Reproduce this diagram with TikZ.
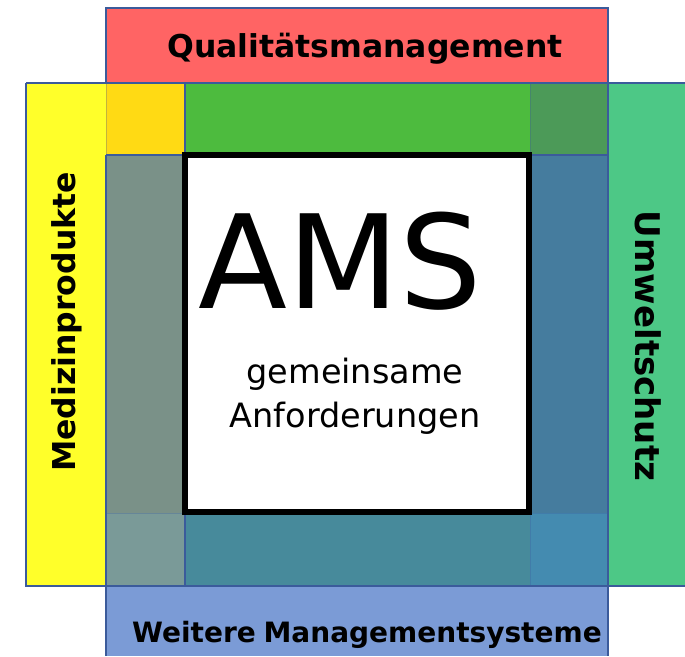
\documentclass[tikz,border=0pt]{standalone}
\usepackage{fontspec}
\setmainfont{DejaVu Sans}
\usepackage{tikz}

\definecolor{qmred}{HTML}{FF6464}
\definecolor{mpyellow}{HTML}{FFFF2A}
\definecolor{mpgold}{HTML}{FFDA14}
\definecolor{usgreen}{HTML}{4DC886}
\definecolor{topgreen}{HTML}{4DBB3E}
\definecolor{darkgreen}{HTML}{4C9A58}
\definecolor{leftgray}{HTML}{7A9188}
\definecolor{rightblue}{HTML}{457C9E}
\definecolor{lowgray}{HTML}{7A9A98}
\definecolor{lowteal}{HTML}{478A9B}
\definecolor{lowblue}{HTML}{448BB0}
\definecolor{wmblue}{HTML}{7B9BD6}
\definecolor{frameblue}{HTML}{3B5B9B}

\tikzset{
    frame/.style={draw=frameblue, line width=1.5pt},
    faint/.style={draw=frameblue, line width=1pt, draw opacity=0.3},
    bandlabel/.style={font=\bfseries\fontsize{#1}{#1}\selectfont, inner sep=0pt, anchor=base},
    corelabel/.style={font=\fontsize{#1}{#1}\selectfont, inner sep=0pt, anchor=base},
}

\begin{document}
\begin{tikzpicture}[x=1pt, y=-1pt]

    \useasboundingbox (0,0) rectangle (685,656);

    % coloured tiles
    \foreach \c/\xa/\ya/\xb/\yb in {
        qmred/106/8/608/83, mpyellow/26/83/106/586, mpgold/106/83/185/155,
        topgreen/185/83/530/155, darkgreen/530/83/608/155, usgreen/608/83/685/586,
        leftgray/106/155/185/513, rightblue/530/155/608/513,
        lowgray/106/513/185/586, lowteal/185/513/530/586, lowblue/530/513/608/586,
        wmblue/106/586/608/656} {
        \fill[\c] (\xa,\ya) rectangle (\xb,\yb);};

    % outlines of the four areas
    \draw[frame] (106,83) -- (106,8) -- (608,8) -- (608,656);
    \draw[frame] (26,83) -- (685,83);
    \draw[frame] (26,83) -- (26,586) -- (685,586);
    \draw[frame] (106,155) -- (608,155);
    \draw[frame] (106,155) -- (106,656);
    \draw[frame] (185,83) -- (185,155);
    \draw[frame] (185,513) -- (185,586);
    \draw[faint] (106,83) -- (106,155);
    \draw[faint] (530,83) -- (530,155);
    \draw[faint] (530,513) -- (530,586);
    \draw[faint] (106,513) -- (185,513);
    \draw[faint] (530,513) -- (608,513);

    % common core
    \draw[line width=6.5pt, fill=white] (185,155) rectangle (529,512);
    \node[corelabel=130] (ams) at (340,308) {AMS};
    \node[corelabel=33.5] (common) at (355,383) {gemeinsame};
    \node[corelabel=33.5] (requirements) at (355,427) {Anforderungen};

    % labels of the areas
    \node[bandlabel=31.5] (qm) at (365,57) {Qualitätsmanagement};
    \node[bandlabel=28] (wms) at (367,642) {Weitere\hspace{-2pt} Managementsysteme};
    \node[bandlabel=31.5, rotate=90] (mp) at (75,322) {Medizinprodukte};
    \node[bandlabel=34, rotate=-90] (us) at (635,346) {Umweltschutz};

\end{tikzpicture}
\end{document}
